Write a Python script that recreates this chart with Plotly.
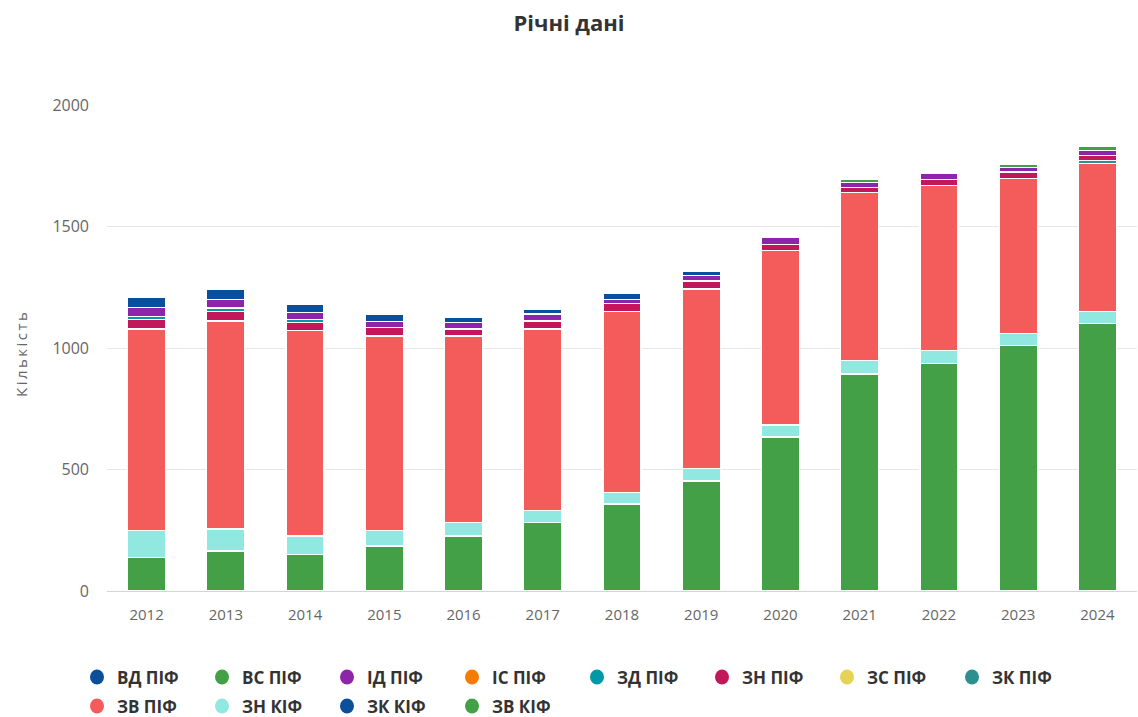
import plotly.graph_objects as go

# Роки
years = ["2012", "2013", "2014", "2015", "2016", "2017", "2018",
         "2019", "2020", "2021", "2022", "2023", "2024"]

# Кількість фондів за типами
vd_pif = [42, 41, 34, 29, 21, 19, 22, 19, 0, 0, 0, 0, 0]
vs_pif = [0, 0, 0, 0, 0, 0, 0, 0, 0, 14, 0, 14, 15]
id_pif = [38, 36, 29, 27, 27, 29, 19, 22, 27, 19, 22, 19, 21]
is_pif = [0, 0, 0, 0, 0, 0, 0, 0, 0, 0, 0, 0, 0]
zd_pif = [12, 14, 14, 0, 0, 0, 0, 0, 0, 0, 0, 0, 0]
zn_pif = [40, 40, 33, 34, 29, 33, 33, 33, 27, 22, 27, 27, 21]
zs_pif = [0, 0, 0, 0, 0, 0, 0, 0, 0, 0, 0, 0, 0]
zk_pif = [0, 0, 0, 0, 0, 0, 0, 0, 0, 0, 0, 0, 14]
zv_pif = [830, 856, 845, 801, 766, 746, 742, 740, 717, 692, 678, 638, 608]
zn_kif = [111, 90, 75, 63, 57, 51, 49, 50, 49, 55, 55, 50, 50]
zk_kif = [0, 0, 0, 0, 0, 0, 0, 0, 0, 0, 0, 0, 0]
zv_kif = [137, 165, 151, 185, 226, 281, 358, 453, 634, 893, 935, 1009, 1100]

# Серії у порядку легенди (верхня частина стовпця — перша)
series = [
    ("ВД ПІФ", vd_pif, "#0b4f9b"),
    ("ВС ПІФ", vs_pif, "#43a047"),
    ("ІД ПІФ", id_pif, "#8e24aa"),
    ("ІС ПІФ", is_pif, "#f57c00"),
    ("ЗД ПІФ", zd_pif, "#0097a7"),
    ("ЗН ПІФ", zn_pif, "#c2185b"),
    ("ЗС ПІФ", zs_pif, "#e4d354"),
    ("ЗК ПІФ", zk_pif, "#2b908f"),
    ("ЗВ ПІФ", zv_pif, "#f45b5b"),
    ("ЗН КІФ", zn_kif, "#91e8e1"),
    ("ЗК КІФ", zk_kif, "#0b4f9b"),
    ("ЗВ КІФ", zv_kif, "#43a047"),
]

W, H = 1138, 717
M_L, M_R, M_T, M_B = 107, 1, 105, 126
PLOT_W = W - M_L - M_R
PLOT_H = H - M_T - M_B

font_family = "Open Sans, Noto Sans, sans-serif"

fig = go.Figure()

# Стовпці: знизу вгору
for name, vals, color in reversed(series):
    fig.add_trace(go.Bar(
        x=years, y=vals, name=name, showlegend=False,
        marker=dict(color=color, line=dict(color="white", width=1.2)),
    ))


def px_x(px):
    return (px - M_L) / PLOT_W


def px_y(py):
    return (H - M_B - py) / PLOT_H


# Легенда: круглі маркери та підписи, 8 елементів у рядку
shapes = []
annotations = []
for i, (name, _vals, color) in enumerate(series):
    row, col = divmod(i, 8)
    cx = 97 + 125 * col
    cy = 677 + 29 * row
    shapes.append(dict(
        type="circle", xref="paper", yref="paper",
        xsizemode="pixel", ysizemode="pixel",
        xanchor=px_x(cx), yanchor=px_y(cy),
        x0=-7, x1=7, y0=-7.5, y1=7.5,
        fillcolor=color, line=dict(width=0),
    ))
    annotations.append(dict(
        x=px_x(cx + 18), y=px_y(cy), xref="paper", yref="paper",
        xanchor="left", yanchor="middle", showarrow=False,
        text="<b>" + name + "</b>",
        font=dict(size=17, color="#333333", family=font_family),
    ))

# Підпис осі Y з розрідженими літерами
annotations.append(dict(
    x=px_x(21), y=px_y(355), xref="paper", yref="paper",
    xanchor="center", yanchor="middle", showarrow=False, textangle=-90,
    text="\u2009".join("Кількість"),
    font=dict(size=15, color="#666666", family=font_family),
))

fig.update_layout(
    width=W, height=H,
    margin=dict(l=M_L, r=M_R, t=M_T, b=M_B),
    paper_bgcolor="white", plot_bgcolor="white",
    barmode="stack", bargap=0.52,
    showlegend=False,
    font=dict(family=font_family, color="#666666", size=14),
    title=dict(text="<b>Річні дані</b>", x=0.5, xanchor="center",
               y=0.968, yanchor="middle",
               font=dict(size=22, color="#333333", family=font_family)),
    xaxis=dict(type="category", showgrid=False, showline=True,
               linecolor="#ccd6eb", linewidth=1, ticks="",
               ticklabelstandoff=10,
               tickfont=dict(size=15, color="#666666")),
    yaxis=dict(range=[0, 2000], tickvals=[0, 500, 1000, 1500, 2000],
               showgrid=True, gridcolor="#e6e6e6", gridwidth=1,
               zeroline=False, showline=False, ticks="",
               ticklabelstandoff=17,
               tickfont=dict(size=16, color="#666666")),
    shapes=shapes,
    annotations=annotations,
)

fig.write_html("out.html")
